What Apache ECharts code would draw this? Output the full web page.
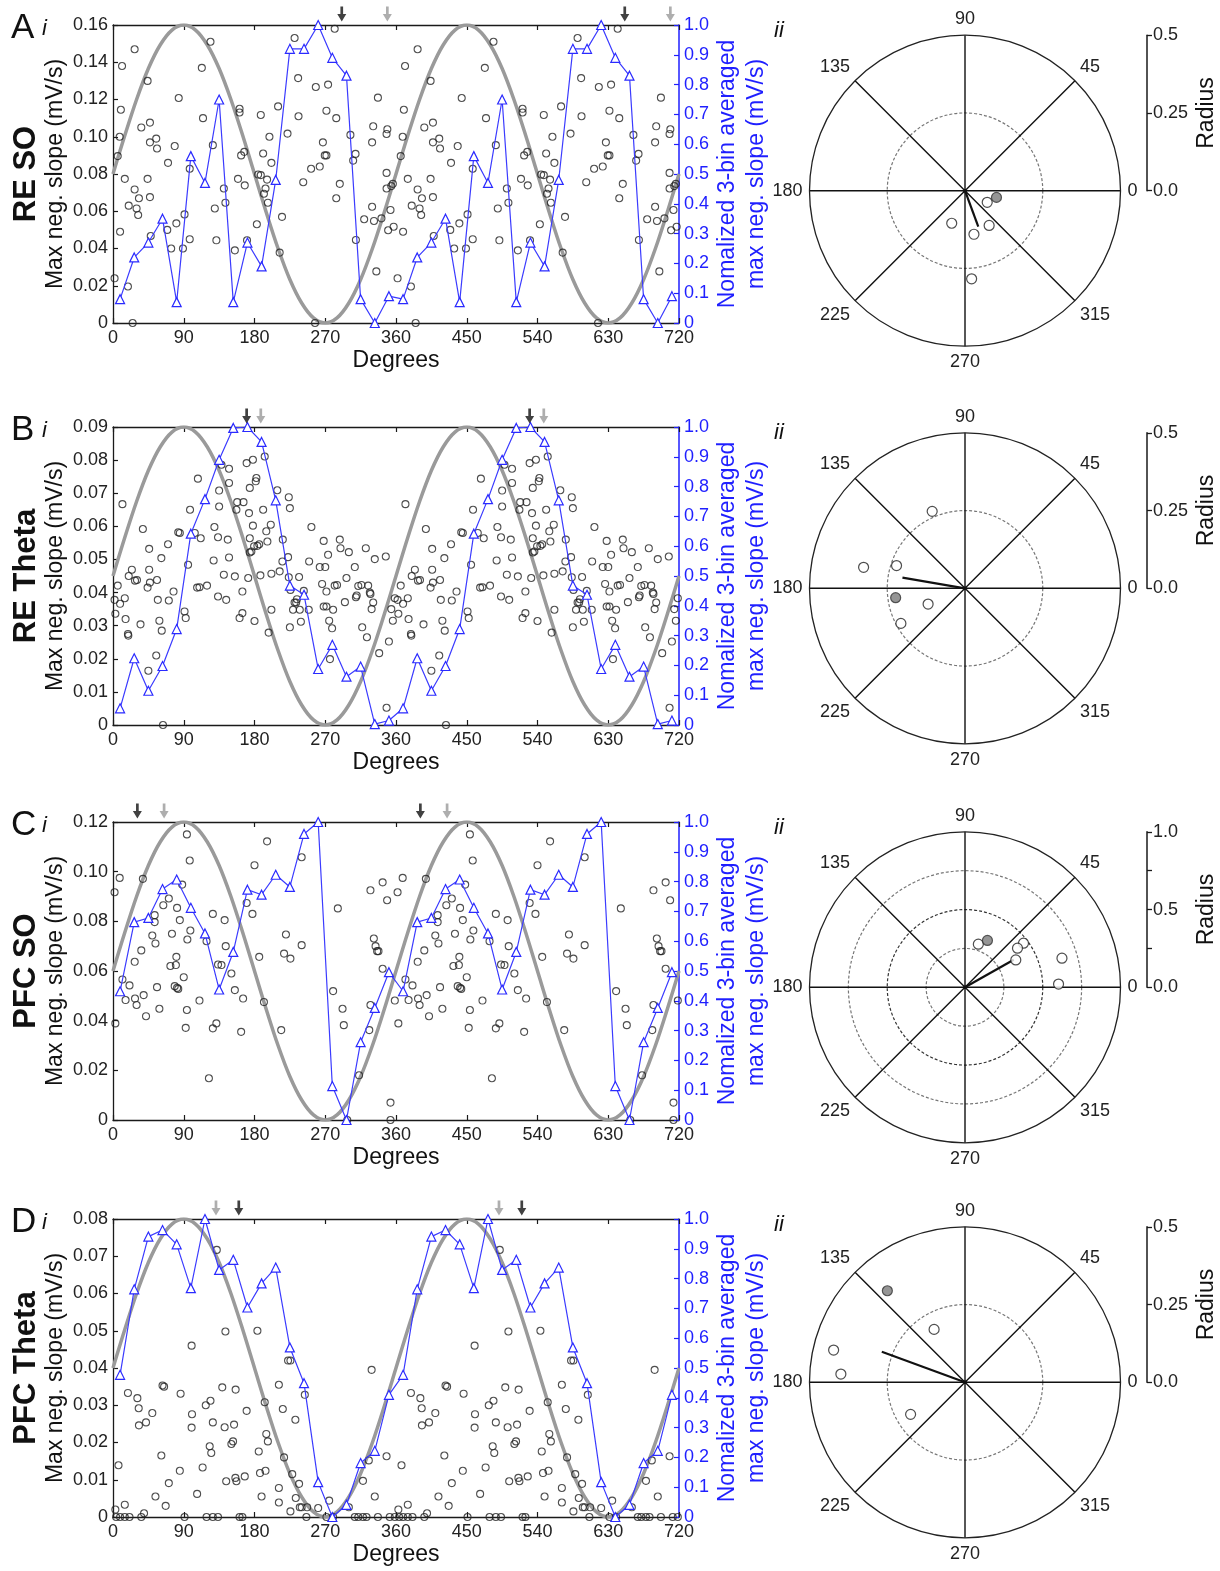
<!DOCTYPE html>
<html><head><meta charset="utf-8">
<script src="https://cdn.jsdelivr.net/npm/echarts@6/dist/echarts.min.js"></script>
<style>html,body{margin:0;padding:0;background:#fff}#c{width:1220px;height:1571px}</style>
</head><body><div id="c"></div>
<script>
const FONT = '"Liberation Sans", Arial, Helvetica, sans-serif';

// ---------- data ----------
const panelLetters = ['A', 'B', 'C', 'D'];
const rowLabels = ['RE SO', 'RE Theta', 'PFC SO', 'PFC Theta'];
const leftMax = [0.16, 0.09, 0.12, 0.08];
const leftInterval = [0.02, 0.01, 0.02, 0.01];
const xTicks = [0, 90, 180, 270, 360, 450, 540, 630, 720];
const binCenters = [9,27,45,63,81,99,117,135,153,171,189,207,225,243,261,279,297,315,333,351];
// reference sinusoid (normalized), every 15 degrees of one cycle
const sineDeg = [0,15,30,45,60,75,90,105,120,135,150,165,180,195,210,225,240,255,270,285,300,315,330,345,360];
const sineNorm = [0.5,0.629,0.75,0.854,0.933,0.983,1,0.983,0.933,0.854,0.75,0.629,0.5,0.371,0.25,0.146,0.067,0.017,0,0.017,0.067,0.146,0.25,0.371,0.5];

// normalized 3-bin averaged (blue), one cycle
const blueA = [0.08,0.22,0.27,0.35,0.07,0.56,0.47,0.75,0.07,0.27,0.19,0.48,0.92,0.92,1.0,0.89,0.83,0.08,0.0,0.09];
const blueB = [0.056,0.224,0.115,0.198,0.322,0.642,0.758,0.89,0.997,1.0,0.95,0.754,0.468,0.437,0.188,0.269,0.162,0.196,0.003,0.015];
const blueC = [0.432,0.664,0.678,0.775,0.807,0.712,0.626,0.438,0.564,0.773,0.756,0.823,0.782,0.96,1.0,0.114,0.0,0.261,0.376,0.496];
const blueD = [0.477,0.764,0.941,0.963,0.915,0.768,1.0,0.829,0.863,0.703,0.784,0.837,0.569,0.449,0.117,0.0,0.041,0.181,0.222,0.41];

// max neg. slope per cycle [deg, mV/s], one cycle (repeated in 2nd cycle)
const dotsA = [[2,0.024],[6,0.0896],[8.5,0.1],[10,0.1145],[11.5,0.138],[9,0.049],[15,0.0774],[19,0.0196],[25,0],[27.5,0.147],[20,0.063],[27.5,0.0717],[30,0.0615],[32,0.058],[33,0.067],[36,0.105],[44,0.13],[44,0.0774],[47,0.1076],[47,0.097],[47,0.0676],[48,0.0467],[55,0.099],[56,0.0937],[70,0.086],[69,0.05],[74,0.04],[78.5,0.095],[80.6,0.0535],[83.6,0.1208],[89,0.04],[91,0.0583],[97.6,0.0828],[97.6,0.045],[113,0.137],[114.5,0.11],[124,0.151],[127,0.0955],[129.5,0.0615],[131.5,0.0444],[141,0.0722],[143,0.0646],[155,0.039],[159,0.0774],[161,0.115],[161,0.113],[163,0.09],[167,0.0919],[167.6,0.0739],[170.5,0.0444],[183,0.053],[184.6,0.0797],[188,0.0794],[188,0.1117],[191,0.091],[192,0.0694],[194,0.0722],[197,0.0646],[199,0.1],[201.5,0.086],[196,0.077],[210,0.1163],[212,0.0378],[215,0.057],[222,0.1017],[231,0.153],[235.5,0.1315],[236,0.111],[242,0.0756],[252,0.0828],[257,0],[258,0.1267],[263,0.084],[267,0.097],[269.4,0.09],[271.5,0.09],[271.5,0.114],[273.6,0.128],[282,0.158],[284,0.11],[284,0.067],[288.5,0.0747],[302,0.101],[305.5,0.0872],[308.5,0.0908],[309,0.0446],[319.5,0.0557],[329.6,0.0624],[331,0.1056],[329.6,0.097],[332,0.0548],[335,0.0277],[337,0.121],[341.5,0.0562],[348,0.0806],[348,0.0722],[349,0.104],[348,0.1015],[350,0.0498],[353,0.0607],[354,0.0735],[357,0.0517],[356,0.0747]];
const dotsB = [[2,0.0378],[3,0.0336],[6,0.0421],[9,0.0366],[12,0.0667],[15,0.0383],[16,0.032],[19,0.0275],[19.5,0.027],[20,0.045],[24,0.0469],[28,0.0436],[30.5,0.0438],[35,0.0304],[38,0.0592],[44,0.0415],[46,0.0469],[46,0.0532],[47,0.043],[45,0.0164],[55,0.021],[56,0.0438],[57,0.0378],[59,0.0315],[61.5,0.0504],[62,0.0285],[63.6,0],[70,0.0546],[71,0.0376],[77,0.0403],[83,0.0582],[85,0.058],[91,0.0343],[92.5,0.0323],[95.5,0.0484],[98,0.065],[104,0.058],[107,0.0415],[108,0.0744],[110,0.0416],[111.6,0.0564],[119.6,0.0421],[128,0.0497],[129,0.0598],[133.6,0.0388],[133.6,0.0567],[135,0.0708],[135,0.066],[138,0.0786],[141,0.0454],[144,0.0378],[146,0.056],[147.6,0.0774],[147.6,0.0731],[147.6,0.0506],[155,0.0449],[157,0.065],[158,0.0673],[161,0.0323],[164.6,0.0403],[164.6,0.0338],[166,0.0673],[170,0.0791],[172,0.0444],[173,0.064],[174,0.0564],[174,0.0521],[174,0.0716],[176,0.0524],[178,0.0801],[178,0.0602],[179.5,0.054],[180,0.0314],[181.6,0.0736],[182.4,0.0746],[183.7,0.0541],[186,0.0546],[187.5,0.0452],[191,0.065],[193,0.0811],[195,0.0585],[196.4,0.0554],[198,0.0279],[200.7,0.0605],[201.5,0.0457],[201.5,0.0348],[209,0.0709],[212,0.0464],[215.5,0.0494],[216,0.056],[222.7,0.0507],[223.6,0.0446],[225,0.0295],[223.6,0.0688],[225,0.0655],[225.7,0.0408],[229,0.0348],[231,0.037],[233,0.037],[234,0.038],[236.7,0.0447],[237.6,0.0348],[239,0.0312],[242.7,0.0405],[249,0.0348],[249.5,0.0494],[252.4,0.0598],[263,0.0477],[266,0.0426],[268,0.0556],[268,0.0358],[270,0.0477],[271.5,0.0403],[271.5,0.0358],[273.6,0.0514],[275,0.0315],[276,0.0199],[278.7,0.0292],[280,0.0348],[282,0.0421],[285,0.0423],[288.5,0.056],[289.4,0.0534],[295,0.0371],[297,0.0444],[300,0.0522],[307.6,0.0477],[309,0.0386],[310,0.0391],[312,0.042],[316,0.0423],[317,0.0295],[321.6,0.0534],[323,0.0265],[324.6,0.0421],[326.7,0.04],[327.5,0.0396],[329,0.035],[331,0.037],[333,0.0501],[338.6,0.0217],[347,0.0509],[348,0.0052],[351,0.0252],[354,0.035],[356,0.0315],[358.5,0.0383]];
const dotsC = [[2,0.0917],[3,0.0389],[8.5,0.0975],[12,0.0566],[16,0.0483],[21,0.0542],[27.6,0.0637],[28,0.0489],[30,0.0463],[36,0.0683],[38,0.0971],[39,0.0503],[42,0.0418],[50,0.0743],[53,0.0825],[53,0.0797],[54,0.0711],[56,0.0535],[59,0.0448],[64,0.0865],[71,0.0892],[75,0.075],[73,0.062],[80,0.0624],[80.6,0.0657],[81.5,0.0854],[78.5,0.0539],[81.5,0.0532],[83,0.0528],[85,0.0805],[88,0.0948],[90,0.0575],[92.5,0.0371],[94,0.0443],[94,0.115],[94.6,0.0727],[97.6,0.1045],[98.4,0.0763],[110,0.0481],[119,0.072],[122,0.0168],[127,0.083],[127,0.0369],[131.5,0.0389],[133.6,0.0626],[138,0.0624],[142,0.0805],[143.4,0.07],[150.6,0.059],[155,0.0523],[163,0.0355],[165.5,0.0489],[170,0.0874],[177.4,0.083],[180,0.1026],[186,0.0657],[192,0.0475],[196,0.1122],[214,0.0362],[217.6,0.067],[220,0.0747],[225.7,0.065],[240,0.0704],[240,0.1058],[280,0.0519],[286,0.0852],[292,0.0448],[293.6,0.0382],[298,0],[313,0.018],[326,0.0362],[327.5,0.0463],[327.5,0.0925],[331.8,0.0731],[334,0.07],[336,0.068],[337.7,0.068],[343,0.0957],[343,0.0609],[348.7,0.0885],[353,0.007],[353,0],[358.5,0.0481]];
const dotsD = [[3,0.002],[4,0],[7,0.0139],[9,0],[15,0.0033],[15,0],[19,0.0333],[21,0],[31,0.0319],[32.7,0.0292],[33,0.0246],[36,0],[39.5,0.001],[42,0.0254],[50,0.0279],[54,0.0055],[61.5,0.0165],[63,0.0353],[65,0.035],[67,0.003],[71,0.0091],[85,0.0124],[86,0.0331],[91,0],[100,0.046],[100.5,0.0276],[100,0.024],[107,0.0062],[114,0.0133],[118,0.03],[124,0.0312],[123,0.019],[125,0.0172],[127,0.0254],[119,0],[127,0],[133.6,0],[132,0.0717],[139,0.0348],[142,0.0241],[143,0.0498],[144,0.0096],[150.6,0.0196],[152.7,0.0203],[154,0.0248],[155.7,0.0105],[156,0.0342],[157,0.0096],[161,0],[164.6,0],[167.6,0.0109],[170,0.0285],[183.7,0.05],[185.4,0.0176],[187,0.0118],[189,0.0055],[195,0.0223],[197,0.0203],[193,0.0308],[194,0.0124],[211,0.0355],[211,0.0078],[211,0.0039],[216,0.029],[217.6,0.016],[222.7,0.042],[225.7,0.042],[225.7,0.0015],[228,0.0115],[232,0.0261],[232.5,0.0051],[236.7,0.0089],[237.6,0.0026],[240,0.0026],[244,0.0328],[247,0.0026],[246,0],[261,0.0024],[271.5,0],[275,0.0044],[280,0],[300,0.0026],[307.6,0],[312,0],[318,0],[322.5,0],[318,0.0097],[325.4,0.0152],[329,0.0395],[333,0.0055],[337,0],[348,0.0163],[352,0],[358.5,0]];

// preferred phase arrows (first cycle, degrees)
const arrowBlack = [291, 170, 31, 160];
const arrowGray = [349, 188, 65, 131];

// polar plots: [radius, angle]
const radiusMax = [0.5, 0.5, 1.0, 0.5];
const polarOpenA = [[0.0806,332.4],[0.136,304.8],[0.113,247.8],[0.143,281.6],[0.284,274.3]];
const polarOpenB = [[0.269,113.1],[0.333,168.3],[0.232,161.6],[0.129,203.1],[0.235,208.7]];
const polarOpenC = [[0.29,72.8],[0.471,37],[0.421,36.7],[0.371,28.3],[0.651,16.7],[0.602,2]];
const polarOpenD = [[0.197,120.3],[0.435,166.2],[0.4,176.2],[0.203,210.5]];
const polarFilled = [[0.1035,348],[0.225,187.7],[0.334,64.4],[0.386,130.3]];
const meanVector = [[0.123,290.3],[0.204,170.3],[0.36,29.5],[0.285,159.8]];

// ---------- layout ----------
const gridTops = [25, 427, 822, 1219];
const GL = 113, GW = 566, GH = 298;
const polarCY = [190.7, 588.3, 987.3, 1382.3];
const PCX = 965, PR = 155.5;

const blues = [blueA, blueB, blueC, blueD];
const dots = [dotsA, dotsB, dotsC, dotsD];
const polarOpen = [polarOpenA, polarOpenB, polarOpenC, polarOpenD];

const grid = [], xAxis = [], yAxis = [], series = [], polar = [], angleAxis = [], radiusAxis = [], graphic = [];
const black = '#1a1a1a', blue = '#1f1fff';
const arrowPath = 'path://M3.5,0 L6.5,0 L6.5,8 L10,8 L5,16 L0,8 L3.5,8 Z';

for (let i = 0; i < 4; i++) {
  const top = gridTops[i];
  grid.push({left: GL, top: top, width: GW, height: GH});
  grid.push({left: 1146, top: polarCY[i] - PR, width: 1, height: PR});
  const g = 2 * i;
  // bottom x
  xAxis.push({gridIndex: g, type: 'value', min: 0, max: 720, interval: 90, position: 'bottom',
    axisLine: {onZero: false, lineStyle: {color: black, width: 1.3}},
    axisTick: {inside: true, length: 5, lineStyle: {color: black, width: 1.2}},
    axisLabel: {fontSize: 18, color: '#222', fontFamily: FONT, margin: 6},
    splitLine: {show: false},
    name: 'Degrees', nameLocation: 'middle', nameGap: 26,
    nameTextStyle: {fontSize: 23, color: '#111', fontFamily: FONT}});
  // top x
  xAxis.push({gridIndex: g, type: 'value', min: 0, max: 720, interval: 90, position: 'top',
    axisLine: {onZero: false, lineStyle: {color: black, width: 1.3}},
    axisTick: {inside: true, length: 5, lineStyle: {color: black, width: 1.2}},
    axisLabel: {show: false}, splitLine: {show: false}});
  // hidden x for radius scale grid
  xAxis.push({gridIndex: g + 1, type: 'value', show: false, min: 0, max: 1});
  // left y
  yAxis.push({gridIndex: g, type: 'value', min: 0, max: leftMax[i], interval: leftInterval[i], position: 'left',
    axisLine: {show: true, onZero: false, lineStyle: {color: black, width: 1.3}},
    axisTick: {show: true, inside: true, length: 5, lineStyle: {color: black, width: 1.2}},
    axisLabel: {fontSize: 18, color: '#222', fontFamily: FONT, margin: 5,
      formatter: v => v === 0 ? '0' : v.toFixed(2)},
    splitLine: {show: false},
    name: 'Max neg. slope (mV/s)', nameLocation: 'middle', nameGap: 46, nameRotate: 90,
    nameTextStyle: {fontSize: 23, color: '#111', fontFamily: FONT}});
  // right y (blue)
  yAxis.push({gridIndex: g, type: 'value', min: 0, max: 1, interval: 0.1, position: 'right',
    axisLine: {show: true, onZero: false, lineStyle: {color: blue, width: 1.5}},
    axisTick: {show: true, inside: true, length: 5, lineStyle: {color: blue, width: 1.2}},
    axisLabel: {fontSize: 18, color: blue, fontFamily: FONT, margin: 5,
      formatter: v => v === 0 ? '0' : v.toFixed(1)},
    splitLine: {show: false},
    name: 'Nomalized 3-bin averaged\nmax neg. slope (mV/s)', nameLocation: 'middle', nameGap: 34, nameRotate: 90,
    nameTextStyle: {fontSize: 23, color: blue, fontFamily: FONT, lineHeight: 29}});
  // radius scale
  yAxis.push({gridIndex: g + 1, type: 'value', min: 0, max: radiusMax[i], interval: 0.25, position: 'right',
    axisLine: {show: true, onZero: false, lineStyle: {color: black, width: 1.5}},
    axisTick: {show: true, inside: false, length: 5, lineStyle: {color: black, width: 1.3}},
    axisLabel: {fontSize: 18, color: '#222', fontFamily: FONT, margin: 6,
      formatter: v => {
        if (radiusMax[i] === 1.0) return (Math.abs(v * 2 - Math.round(v * 2)) < 1e-6) ? v.toFixed(1) : '';
        return Math.abs(v - 0.25) < 1e-6 ? '0.25' : v.toFixed(1);
      }},
    splitLine: {show: false},
    name: 'Radius', nameLocation: 'middle', nameGap: 48, nameRotate: 90,
    nameTextStyle: {fontSize: 23, color: '#111', fontFamily: FONT}});

  const xb = 3 * i, yl = 3 * i, yr = 3 * i + 1;
  // sine
  const sinePts = [];
  sineDeg.forEach((d, k) => sinePts.push([d, sineNorm[k] * leftMax[i]]));
  sineDeg.forEach((d, k) => { if (k > 0) sinePts.push([d + 360, sineNorm[k] * leftMax[i]]); });
  series.push({type: 'line', xAxisIndex: xb, yAxisIndex: yl, data: sinePts, smooth: 0.35, symbol: 'none',
    lineStyle: {color: '#9a9a9a', width: 3.5}, z: 1, silent: true});
  // scatter dots
  const dd = dots[i].concat(dots[i].map(p => [p[0] + 360, p[1]]));
  series.push({type: 'scatter', xAxisIndex: xb, yAxisIndex: yl, data: dd, symbol: 'circle', symbolSize: 7,
    itemStyle: {color: 'rgba(0,0,0,0)', borderColor: '#222', borderWidth: 1.1}, z: 3, clip: false});
  // blue line
  const bl = [];
  binCenters.forEach((d, k) => bl.push([d, blues[i][k]]));
  binCenters.forEach((d, k) => bl.push([d + 360, blues[i][k]]));
  series.push({type: 'line', xAxisIndex: xb, yAxisIndex: yr, data: bl, symbol: 'triangle', symbolSize: 9,
    showSymbol: true,
    lineStyle: {color: '#3b3bff', width: 1.2},
    itemStyle: {color: '#fff', borderColor: '#2a2aff', borderWidth: 1.2}, z: 4});
  // arrows above plot
  const ay = leftMax[i] * 1.037;
  series.push({type: 'scatter', xAxisIndex: xb, yAxisIndex: yl, clip: false,
    data: [[arrowBlack[i], ay], [arrowBlack[i] + 360, ay]], symbol: arrowPath, symbolSize: [9, 15],
    itemStyle: {color: '#111'}, z: 5});
  series.push({type: 'scatter', xAxisIndex: xb, yAxisIndex: yl, clip: false,
    data: [[arrowGray[i], ay], [arrowGray[i] + 360, ay]], symbol: arrowPath, symbolSize: [9, 15],
    itemStyle: {color: '#9a9a9a'}, z: 5});

  // polar
  polar.push({center: [PCX, polarCY[i]], radius: PR});
  angleAxis.push({polarIndex: i, type: 'value', min: 0, max: 360, interval: 45, startAngle: 0, clockwise: false,
    axisLine: {lineStyle: {color: '#222', width: 1.3}},
    axisTick: {show: false},
    axisLabel: {fontSize: 18, color: '#222', fontFamily: FONT, margin: 7,
      formatter: v => v === 360 ? '' : String(v)},
    splitLine: {show: true, lineStyle: {color: '#111', width: 1.4}}});
  const ringColors = radiusMax[i] === 1.0 ? ['#777', '#777', '#333', '#777', 'rgba(0,0,0,0)'] : ['#777', '#777', 'rgba(0,0,0,0)'];
  radiusAxis.push({polarIndex: i, type: 'value', min: 0, max: radiusMax[i], interval: 0.25,
    axisLine: {show: false}, axisTick: {show: false}, axisLabel: {show: false},
    splitLine: {show: true, lineStyle: {color: ringColors, width: 1.2, type: [3, 2]}}});
  series.push({type: 'line', coordinateSystem: 'polar', polarIndex: i,
    data: [[0, meanVector[i][1]], meanVector[i]], symbol: 'none',
    lineStyle: {color: '#111', width: 2.2}, z: 4});
  series.push({type: 'scatter', coordinateSystem: 'polar', polarIndex: i, data: polarOpen[i],
    symbol: 'circle', symbolSize: 10,
    itemStyle: {color: '#fff', borderColor: '#222', borderWidth: 1.2}, z: 5});
  series.push({type: 'scatter', coordinateSystem: 'polar', polarIndex: i, data: [polarFilled[i]],
    symbol: 'circle', symbolSize: 10,
    itemStyle: {color: '#7a7a7a', borderColor: '#333', borderWidth: 1.2}, z: 5});

  // texts
  graphic.push({type: 'text', x: 11, y: top + 3, style: {text: panelLetters[i], font: '35px ' + FONT, fill: '#111', verticalAlign: 'middle'}});
  graphic.push({type: 'text', x: 42, y: top + 4, style: {text: 'i', font: 'italic 22px ' + FONT, fill: '#111', verticalAlign: 'middle'}});
  graphic.push({type: 'text', x: 26, y: top + GH / 2, rotation: Math.PI / 2,
    style: {text: rowLabels[i], font: 'bold 31px ' + FONT, fill: '#111', align: 'center', verticalAlign: 'middle'}});
  graphic.push({type: 'text', x: 774, y: top + 6, style: {text: 'ii', font: 'italic 22px ' + FONT, fill: '#111', verticalAlign: 'middle'}});
}

const chart = echarts.init(document.getElementById('c'), null, {renderer: 'canvas'});
chart.setOption({
  animation: false,
  backgroundColor: '#fff',
  textStyle: {fontFamily: FONT},
  grid, xAxis, yAxis, polar, angleAxis, radiusAxis, series, graphic
});
</script>
</body></html>
